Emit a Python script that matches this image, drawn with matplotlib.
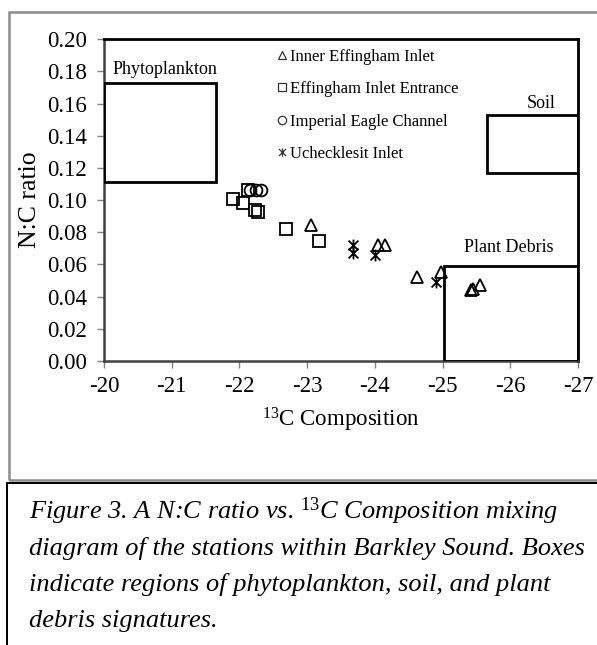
import matplotlib
matplotlib.use("Agg")
import matplotlib.pyplot as plt
from matplotlib.path import Path
from matplotlib.patches import Rectangle
from matplotlib.lines import Line2D

plt.rcParams['font.family'] = ['Liberation Serif', 'DejaVu Serif']
plt.rcParams['mathtext.fontset'] = 'custom'
plt.rcParams['mathtext.rm'] = 'Liberation Serif'
plt.rcParams['mathtext.it'] = 'Liberation Serif:italic'

# ---- data ----
inner_x = [-23.05, -24.05, -24.15, -24.62, -24.98, -25.42, -25.45, -25.55]
inner_y = [0.0845, 0.072, 0.072, 0.0525, 0.0555, 0.044, 0.045, 0.047]
entr_x = [-21.91, -22.05, -22.13, -22.23, -22.28, -22.69, -23.18]
entr_y = [0.101, 0.098, 0.1066, 0.0937, 0.0927, 0.0818, 0.0745]
imp_x = [-22.16, -22.24, -22.32]
imp_y = [0.1066, 0.1066, 0.1066]
uch_x = [-23.67, -23.67, -24.0, -24.9]
uch_y = [0.072, 0.067, 0.066, 0.049]

series_labels = ['Inner Effingham Inlet', 'Effingham Inlet Entrance',
                 'Imperial Eagle Channel', 'Ucheckl\u0065sit Inlet']

# source regions
box_names = ['Phytoplankton', 'Soil', 'Plant Debris']
box_x0 = [-20.0, -25.65, -25.02]
box_x1 = [-21.66, -27.0, -27.0]
box_y0 = [0.111, 0.117, 0.0]
box_y1 = [0.173, 0.153, 0.059]

x_ticks = [-20, -21, -22, -23, -24, -25, -26, -27]
y_ticks = [0.00, 0.02, 0.04, 0.06, 0.08, 0.10, 0.12, 0.14, 0.16, 0.18, 0.20]

caption_lines = [
    r'Figure 3. A N:C ratio vs. $^{\mathit{13}}$C Composition mixing',
    'diagram of the stations within Barkley Sound. Boxes',
    'indicate regions of phytoplankton, soil, and plant',
    'debris signatures.',
]

# ---- figure ----
W, H = 597, 645
fig = plt.figure(figsize=(W / 100, H / 100), dpi=100)
fig.patch.set_facecolor('white')

fig.add_artist(Rectangle((9 / W, 1 - 480 / H), 700 / W, (480 - 11.5) / H,
                         transform=fig.transFigure, fill=False,
                         edgecolor='#8c8c8c', lw=1.8))
fig.add_artist(Rectangle((7 / W, -0.1), 700 / W, 0.1 + 1 - 483 / H,
                         transform=fig.transFigure, fill=False,
                         edgecolor='black', lw=1.4))

ax = fig.add_axes([104 / W, 1 - 361 / H, 474 / W, (361 - 39.3) / H])
ax.set_xlim(-20, -27)
ax.set_ylim(0, 0.2)

star = Path([(-1, -1), (1, 1), (-1, 1), (1, -1), (0, -1.2), (0, 1.2)],
            [Path.MOVETO, Path.LINETO, Path.MOVETO, Path.LINETO,
             Path.MOVETO, Path.LINETO])

ms = 8.5
ax.plot(inner_x, inner_y, ls='none', marker='^', ms=ms, mfc='none',
        mec='black', mew=1.3, label=series_labels[0])
ax.plot(entr_x, entr_y, ls='none', marker='s', ms=ms, mfc='none',
        mec='black', mew=1.3, label=series_labels[1])
ax.plot(imp_x, imp_y, ls='none', marker='o', ms=ms, mfc='none',
        mec='black', mew=1.3, label=series_labels[2])
ax.plot(uch_x, uch_y, ls='none', marker=star, ms=ms, mfc='none',
        mec='black', mew=1.3, label=series_labels[3])

for name, x0, x1, y0, y1 in zip(box_names, box_x0, box_x1, box_y0, box_y1):
    ax.add_patch(Rectangle((x0, y0), x1 - x0, y1 - y0, fill=False,
                           edgecolor='black', lw=2.0, zorder=3))

ax.text(-20.13, 0.181, box_names[0], fontsize=13, ha='left', va='center')
ax.text(-26.45, 0.160, box_names[1], fontsize=13, ha='center', va='center')
ax.text(-25.98, 0.0708, box_names[2], fontsize=13, ha='center', va='center')

ax.set_xticks(x_ticks)
ax.set_xticklabels([f'{t:d}' for t in x_ticks])
ax.set_yticks(y_ticks)
ax.set_yticklabels([f'{t:.2f}' for t in y_ticks])
ax.tick_params(axis='both', labelsize=16.5, direction='out', length=5,
               width=1, color='#808080')
ax.tick_params(axis='x', pad=6)
ax.tick_params(axis='y', pad=7)

for s in ['top', 'right']:
    ax.spines[s].set_color('black')
    ax.spines[s].set_linewidth(2.0)
for s in ['left', 'bottom']:
    ax.spines[s].set_color('#404040')
    ax.spines[s].set_linewidth(1.8)

ax.set_ylabel('N:C ratio', fontsize=18.5)
ax.yaxis.set_label_coords(-0.133, 0.5)
ax.set_xlabel(r'$^{\mathrm{13}}$C Composition', fontsize=16.5, labelpad=6)

handles = [
    Line2D([], [], ls='none', marker='^', ms=6, mfc='none', mec='#333333', mew=0.9),
    Line2D([], [], ls='none', marker='s', ms=6, mfc='none', mec='#333333', mew=0.9),
    Line2D([], [], ls='none', marker='o', ms=6, mfc='none', mec='#333333', mew=0.9),
    Line2D([], [], ls='none', marker=star, ms=6, mfc='none', mec='#333333', mew=0.9),
]
ax.legend(handles, series_labels, loc='upper left',
          bbox_to_anchor=(0.365, 0.97), frameon=False, fontsize=12,
          handlelength=0.6, handletextpad=0.2, labelspacing=0.98,
          borderaxespad=0, borderpad=0)

for i, line in enumerate(caption_lines):
    fig.text(29 / W, 1 - (519 + i * 36) / H, line, fontsize=19,
             style='italic', ha='left', va='baseline')

fig.savefig('out.png', dpi=100)
